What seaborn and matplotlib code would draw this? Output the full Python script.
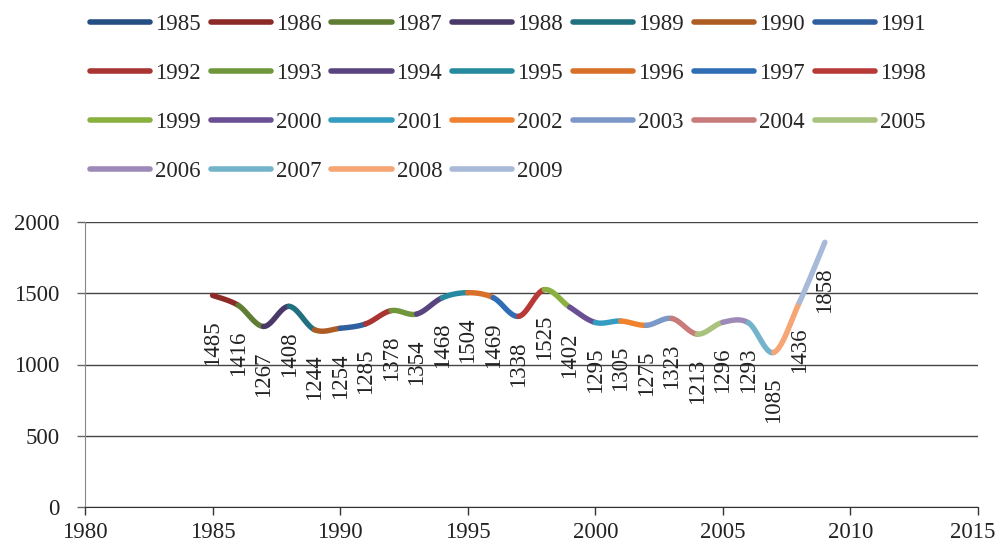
import numpy as np
import matplotlib
matplotlib.use('Agg')
import matplotlib.pyplot as plt
import matplotlib.transforms as mtransforms
from matplotlib.lines import Line2D
import seaborn as sns

years = [1985, 1986, 1987, 1988, 1989, 1990, 1991, 1992, 1993, 1994, 1995, 1996, 1997,
         1998, 1999, 2000, 2001, 2002, 2003, 2004, 2005, 2006, 2007, 2008, 2009]
values = [1485, 1416, 1267, 1408, 1244, 1254, 1285, 1378, 1354, 1468, 1504, 1469, 1338,
          1525, 1402, 1295, 1305, 1275, 1323, 1213, 1296, 1293, 1085, 1436, 1858]
colors = ['#254E82', '#8C2A28', '#5F7E34', '#4A3868', '#21707F', '#AF5B24', '#2F5F9E',
          '#A83532', '#6F963A', '#59447F', '#2789A0', '#D9702A', '#2F6DB5', '#B73A37',
          '#8AB040', '#6A4F94', '#349CC0', '#F0822E', '#7B98C6', '#C87B7A', '#A9C27D',
          '#9E8AB8', '#74B4CA', '#F6A574', '#A9BAD8']

sns.set_style('white')
plt.rcParams['font.family'] = ['Liberation Serif', 'DejaVu Serif']
fs = 16.5

fig = plt.figure(figsize=(9.98, 5.43), dpi=100)
ax = fig.add_axes([85 / 998, 36 / 543, 893 / 998, 285 / 543])

# smoothed (excel-like bezier) segment ending at each year, coloured by that year
pts = np.column_stack([years, values]).astype(float)
n = len(pts)
t = np.linspace(0, 1, 40)[:, None]
for i in range(1, n):
    p0 = pts[max(i - 2, 0)]
    p1 = pts[i - 1]
    p2 = pts[i]
    p3 = pts[min(i + 1, n - 1)]
    c1 = p1 + (p2 - p0) / 6
    c2 = p2 - (p3 - p1) / 6
    seg = ((1 - t) ** 3) * p1 + 3 * ((1 - t) ** 2) * t * c1 + 3 * (1 - t) * t ** 2 * c2 + t ** 3 * p2
    sns.lineplot(x=seg[:, 0], y=seg[:, 1], ax=ax, color=colors[i], lw=3.9,
                 sort=False, solid_capstyle='round')

for yr, v in zip(years, values):
    ax.annotate(str(v), (yr, v), xytext=(0, -18), textcoords='offset points',
                rotation=90, ha='center', va='top', fontsize=fs, color='#222222')

ax.set_xlim(1980, 2015)
ax.set_ylim(0, 2000)
ax.set_xticks(range(1980, 2016, 5))
ax.set_yticks(range(0, 2001, 500))
ax.yaxis.grid(True, color='#444444', lw=1)
ax.xaxis.grid(False)
ax.tick_params(axis='both', labelsize=fs, colors='#222222', length=6, width=1,
               direction='out', left=True, bottom=True)
ax.tick_params(axis='x', color='#333333', pad=5)
ax.tick_params(axis='y', color='#666666', pad=12.5)
for s in ['top', 'right']:
    ax.spines[s].set_visible(False)
ax.spines['left'].set_color('#888888')
ax.spines['bottom'].set_color('#333333')
ax.set_xlabel('')
ax.set_ylabel('')

# nudge the last x label so it stays inside the picture
last = ax.get_xticklabels()[-1]
last.set_transform(last.get_transform() + mtransforms.ScaledTranslation(-5 / 100, 0, fig.dpi_scale_trans))

# legend is filled row by row: 7 per row, last row has 4
ncol = 7
order = []
for j in range(ncol):
    for r in range(4):
        k = r * ncol + j
        if k < len(years):
            order.append(k)
handles = [Line2D([0], [0], color=colors[k], lw=4, solid_capstyle='round') for k in order]
labels = [str(years[k]) for k in order]
fig.legend(handles, labels, ncol=ncol, loc='upper left',
           bbox_to_anchor=(76 / 998, 1.0), frameon=False, fontsize=fs,
           handlelength=2.62, handletextpad=0.22, columnspacing=0.44,
           labelspacing=1.22, borderaxespad=0.2)

fig.savefig('out.png', dpi=100)
